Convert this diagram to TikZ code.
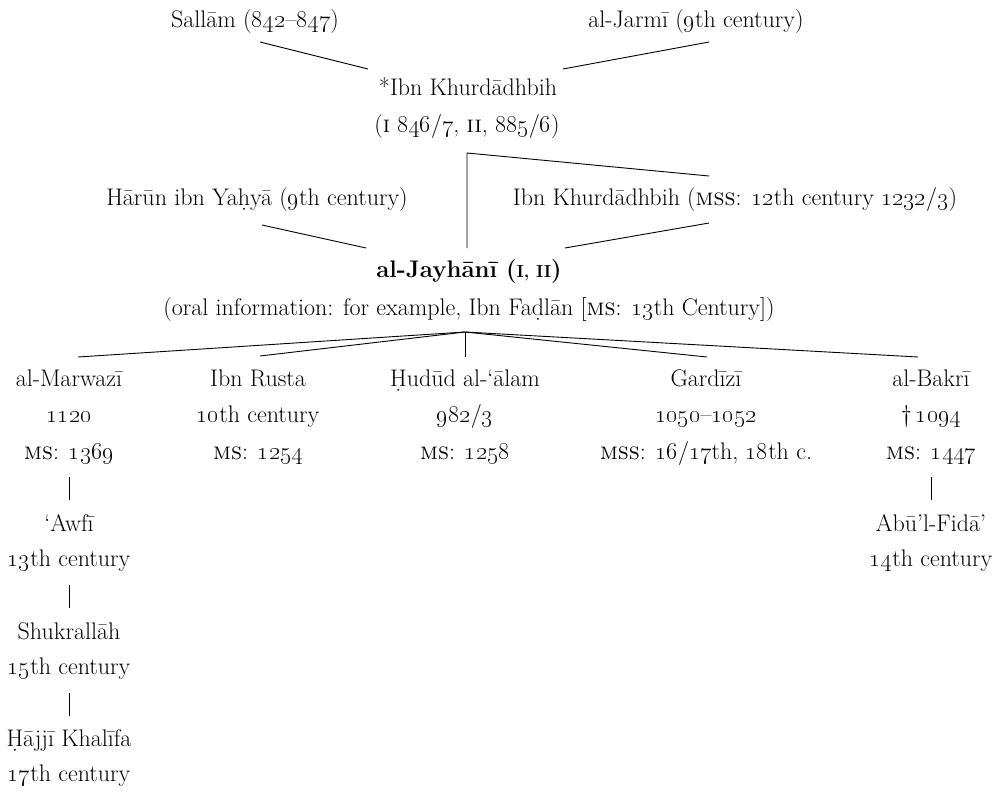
\documentclass[tikz,border=0pt]{standalone}
\usepackage{fix-cm}
\usepackage{tikz}
\newcommand{\osf}[1]{\oldstylenums{#1}}
\newcommand{\bsc}[1]{{\fontsize{17.5}{17.5}\selectfont #1}}
\begin{document}
\begin{tikzpicture}[x=1pt,y=-1pt,
  txt/.style={anchor=base,inner sep=0pt,font=\fontsize{24}{28}\selectfont},
  ln/.style={line width=0.9pt}]
\useasboundingbox (0,0) rectangle (1004,790);
% top
\node[txt] (sallam) at (255,27) {Sallām (\osf{842}–\osf{847})};
\node[txt] (jarmi) at (696,27) {al-Jarmī (\osf{9}th century)};
\node[txt] (ibnk) at (468,95) {*Ibn Khurdādhbih};
\node[txt] (ibnk2) at (467,132) {(\textsc{i} \osf{846}/\osf{7}, \textsc{ii}, \osf{885}/\osf{6})};
\node[txt] (harun) at (257,205) {Hārūn ibn Yaḥyā (\osf{9}th century)};
\node[txt] (ibnms) at (735,205) {Ibn Khurdādhbih (\textsc{mss}: \osf{12}th century \osf{1232}/\osf{3})};
\node[txt] (jay) at (469,277) {\textbf{al-Jayhānī (\bsc{I, II})}};
\node[txt] (oral) at (469,315) {(oral information: for example, Ibn Faḍlān [\textsc{ms}: \osf{13}th Century])};
% columns
\node[txt] (marw) at (69,386) {al-Marwazī};
\node[txt] (marw2) at (69,422) {\osf{1120}};
\node[txt] (marw3) at (69,459) {\textsc{ms}: \osf{1369}};
\node[txt] (rusta) at (258,386) {Ibn Rusta};
\node[txt] (rusta2) at (258,422) {\osf{10}th century};
\node[txt] (rusta3) at (258,459) {\textsc{ms}: \osf{1254}};
\node[txt] (hudud) at (465,386) {Ḥudūd al-‘ālam};
\node[txt] (hudud2) at (465,422) {\osf{982}/\osf{3}};
\node[txt] (hudud3) at (465,459) {\textsc{ms}: \osf{1258}};
\node[txt] (gardizi) at (706,386) {Gardīzī};
\node[txt] (gardizi2) at (706,422) {\osf{1050}–\osf{1052}};
\node[txt] (gardizi3) at (706,459) {\textsc{mss}: \osf{16}/\osf{17}th, \osf{18}th c.};
\node[txt] (bakri) at (931,386) {al-Bakrī};
\node[txt] (bakri2) at (931,422) {†\,\osf{1094}};
\node[txt] (bakri3) at (931,459) {\textsc{ms}: \osf{1447}};
\node[txt] (awfi) at (69,531) {‘Awfī};
\node[txt] (awfi2) at (69,566) {\osf{13}th century};
\node[txt] (shuk) at (69,639) {Shukrallāh};
\node[txt] (shuk2) at (69,674) {\osf{15}th century};
\node[txt] (hajji) at (69,746) {Ḥājjī Khalīfa};
\node[txt] (hajji2) at (69,781) {\osf{17}th century};
\node[txt] (abu) at (931,531) {Abū’l-Fidā’};
\node[txt] (abu2) at (931,566) {\osf{14}th century};
% connector end points
\coordinate (salB) at (260,42);
\coordinate (ibnTL) at (368,69);
\coordinate (ibnTR) at (563,69);
\coordinate (jarB) at (709,42);
\coordinate (corner) at (467,153);
\coordinate (msT) at (709,176);
\coordinate (jayT) at (467,248);
\coordinate (harB) at (262,225);
\coordinate (jayTL) at (366,248);
\coordinate (jayTR) at (565,248);
\coordinate (msB) at (709,223);
\coordinate (fan) at (465,332);
\coordinate (marwT) at (78,357);
\coordinate (rustaT) at (260,356);
\coordinate (hududT) at (465,357);
\coordinate (gardT) at (707,357);
\coordinate (bakT) at (918,357);
\coordinate (marwB) at (69,477);
\coordinate (awfiT) at (69,500);
\coordinate (awfiB) at (69,585);
\coordinate (shukT) at (69,608);
\coordinate (shukB) at (69,693);
\coordinate (hajT) at (69,716);
\coordinate (bakB) at (931,477);
\coordinate (abuT) at (931,500);
% connectors
\draw[ln] (salB) -- (ibnTL);
\draw[ln] (jarB) -- (ibnTR);
\draw[ln] (msT) -- (corner) -- (jayT);
\draw[ln] (harB) -- (jayTL);
\draw[ln] (msB) -- (jayTR);
\draw[ln] (fan) -- (marwT);
\draw[ln] (fan) -- (rustaT);
\draw[ln] (fan) -- (hududT);
\draw[ln] (fan) -- (gardT);
\draw[ln] (fan) -- (bakT);
\draw[ln] (marwB) -- (awfiT);
\draw[ln] (awfiB) -- (shukT);
\draw[ln] (shukB) -- (hajT);
\draw[ln] (bakB) -- (abuT);
\end{tikzpicture}
\end{document}
